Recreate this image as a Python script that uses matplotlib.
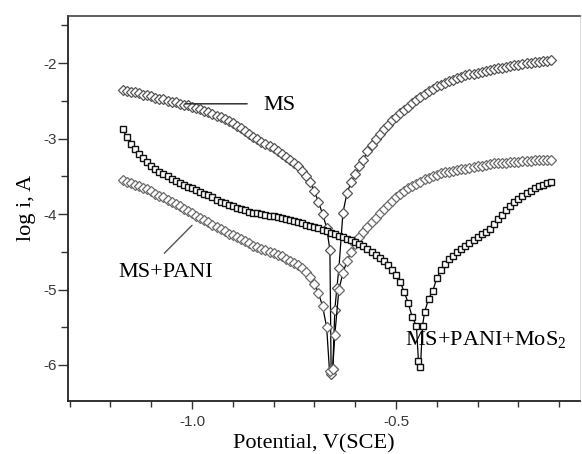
import matplotlib
matplotlib.use("Agg")
import matplotlib.pyplot as plt
from matplotlib.ticker import MultipleLocator, FixedLocator

plt.rcParams['mathtext.fontset'] = 'custom'
plt.rcParams['mathtext.rm'] = 'Liberation Serif'

# ---- MS (bare mild steel), potential V(SCE) vs log i
ms_e = [-1.17, -1.16, -1.15, -1.14, -1.13, -1.12, -1.11, -1.10, -1.09, -1.08,
        -1.07, -1.06, -1.05, -1.04, -1.03, -1.02, -1.01, -1.00, -0.99, -0.98,
        -0.97, -0.96, -0.95, -0.94, -0.93, -0.92, -0.91, -0.90, -0.89, -0.88,
        -0.87, -0.86, -0.85, -0.84, -0.83, -0.82, -0.81, -0.80, -0.79, -0.78,
        -0.77, -0.76, -0.75, -0.74, -0.73, -0.72, -0.71, -0.70, -0.69, -0.68,
        -0.67, -0.662, -0.659,
        -0.655, -0.65, -0.645, -0.64, -0.63,
        -0.62, -0.61, -0.60, -0.59, -0.58, -0.57, -0.56, -0.55, -0.54, -0.53,
        -0.52, -0.51, -0.50, -0.49, -0.48, -0.47, -0.46, -0.45, -0.44, -0.43,
        -0.42, -0.41, -0.40, -0.39, -0.38, -0.37, -0.36, -0.35, -0.34, -0.33,
        -0.32, -0.31, -0.30, -0.29, -0.28, -0.27, -0.26, -0.25, -0.24, -0.23,
        -0.22, -0.21, -0.20, -0.19, -0.18, -0.17, -0.16, -0.15, -0.14, -0.13,
        -0.12]
ms_logi = [-2.36, -2.37, -2.38, -2.39, -2.40, -2.42, -2.43, -2.44, -2.46, -2.47,
           -2.48, -2.50, -2.51, -2.52, -2.54, -2.55, -2.56, -2.58, -2.60, -2.61,
           -2.63, -2.65, -2.67, -2.70, -2.72, -2.74, -2.77, -2.80, -2.83, -2.86,
           -2.90, -2.94, -2.98, -3.01, -3.04, -3.07, -3.10, -3.13, -3.17, -3.21,
           -3.25, -3.29, -3.33, -3.37, -3.43, -3.50, -3.58, -3.70, -3.84, -4.00,
           -4.18, -4.48, -6.12,
           -6.05, -5.27, -4.98, -4.72, -3.98,
           -3.72, -3.58, -3.47, -3.37, -3.28, -3.17, -3.09, -3.01, -2.94, -2.88,
           -2.82, -2.76, -2.71, -2.66, -2.62, -2.58, -2.53, -2.49, -2.45, -2.41,
           -2.37, -2.34, -2.31, -2.29, -2.26, -2.24, -2.22, -2.20, -2.18, -2.16,
           -2.15, -2.14, -2.13, -2.12, -2.10, -2.09, -2.08, -2.07, -2.06, -2.05,
           -2.04, -2.03, -2.02, -2.01, -2.00, -2.00, -1.99, -1.98, -1.97, -1.97,
           -1.96]

# ---- MS+PANI
pani_e = [-1.17, -1.16, -1.15, -1.14, -1.13, -1.12, -1.11, -1.10, -1.09, -1.08,
          -1.07, -1.06, -1.05, -1.04, -1.03, -1.02, -1.01, -1.00, -0.99, -0.98,
          -0.97, -0.96, -0.95, -0.94, -0.93, -0.92, -0.91, -0.90, -0.89, -0.88,
          -0.87, -0.86, -0.85, -0.84, -0.83, -0.82, -0.81, -0.80, -0.79, -0.78,
          -0.77, -0.76, -0.75, -0.74, -0.73, -0.72, -0.71, -0.70, -0.69, -0.68,
          -0.67, -0.663,
          -0.655, -0.65, -0.64, -0.63, -0.62, -0.61, -0.60, -0.59,
          -0.58, -0.57, -0.56, -0.55, -0.54, -0.53, -0.52, -0.51, -0.50, -0.49,
          -0.48, -0.47, -0.46, -0.45, -0.44, -0.43, -0.42, -0.41, -0.40, -0.39,
          -0.38, -0.37, -0.36, -0.35, -0.34, -0.33, -0.32, -0.31, -0.30, -0.29,
          -0.28, -0.27, -0.26, -0.25, -0.24, -0.23, -0.22, -0.21, -0.20, -0.19,
          -0.18, -0.17, -0.16, -0.15, -0.14, -0.13, -0.12]
pani_logi = [-3.55, -3.57, -3.59, -3.61, -3.63, -3.65, -3.67, -3.70, -3.73, -3.76,
             -3.78, -3.81, -3.84, -3.87, -3.90, -3.93, -3.96, -3.99, -4.02, -4.05,
             -4.08, -4.11, -4.14, -4.17, -4.20, -4.23, -4.26, -4.28, -4.31, -4.33,
             -4.36, -4.39, -4.42, -4.44, -4.46, -4.48, -4.50, -4.52, -4.54, -4.56,
             -4.59, -4.62, -4.65, -4.68, -4.72, -4.77, -4.83, -4.93, -5.05, -5.22,
             -5.50, -6.08,
             -6.05, -5.60, -5.00, -4.78, -4.62, -4.50, -4.40, -4.31,
             -4.24, -4.17, -4.11, -4.05, -3.98, -3.93, -3.88, -3.83, -3.78, -3.74,
             -3.70, -3.66, -3.63, -3.60, -3.57, -3.54, -3.52, -3.50, -3.48, -3.46,
             -3.45, -3.44, -3.43, -3.42, -3.41, -3.40, -3.39, -3.38, -3.37, -3.36,
             -3.35, -3.34, -3.33, -3.33, -3.32, -3.32, -3.31, -3.31, -3.31, -3.30,
             -3.30, -3.30, -3.29, -3.29, -3.29, -3.28, -3.28]

# ---- MS+PANI+MoS2
mos2_e = [-1.17, -1.16, -1.15, -1.14, -1.13, -1.12, -1.11, -1.10, -1.09, -1.08,
          -1.07, -1.06, -1.05, -1.04, -1.03, -1.02, -1.01, -1.00, -0.99, -0.98,
          -0.97, -0.96, -0.95, -0.94, -0.93, -0.92, -0.91, -0.90, -0.89, -0.88,
          -0.87, -0.86, -0.85, -0.84, -0.83, -0.82, -0.81, -0.80, -0.79, -0.78,
          -0.77, -0.76, -0.75, -0.74, -0.73, -0.72, -0.71, -0.70, -0.69, -0.68,
          -0.67, -0.66, -0.65, -0.64, -0.63, -0.62, -0.61, -0.60, -0.59, -0.58,
          -0.57, -0.56, -0.55, -0.54, -0.53, -0.52, -0.51, -0.50, -0.49, -0.48,
          -0.47, -0.46, -0.45, -0.445, -0.44,
          -0.435, -0.43, -0.42, -0.41, -0.40, -0.39,
          -0.38, -0.37, -0.36, -0.35, -0.34, -0.33, -0.32, -0.31, -0.30, -0.29,
          -0.28, -0.27, -0.26, -0.25, -0.24, -0.23, -0.22, -0.21, -0.20, -0.19,
          -0.18, -0.17, -0.16, -0.15, -0.14, -0.13, -0.12]
mos2_logi = [-2.88, -2.98, -3.07, -3.14, -3.20, -3.26, -3.31, -3.36, -3.40, -3.44,
             -3.47, -3.50, -3.53, -3.56, -3.59, -3.62, -3.64, -3.66, -3.68, -3.71,
             -3.73, -3.75, -3.78, -3.81, -3.84, -3.86, -3.88, -3.90, -3.92, -3.94,
             -3.95, -3.97, -3.98, -3.99, -4.00, -4.01, -4.02, -4.03, -4.04, -4.05,
             -4.07, -4.08, -4.09, -4.11, -4.12, -4.14, -4.16, -4.17, -4.19, -4.21,
             -4.23, -4.25, -4.27, -4.29, -4.31, -4.33, -4.35, -4.37, -4.40, -4.43,
             -4.46, -4.50, -4.54, -4.58, -4.62, -4.67, -4.74, -4.81, -4.90, -5.03,
             -5.18, -5.37, -5.48, -5.95, -6.02,
             -5.48, -5.30, -5.12, -5.02, -4.85, -4.74,
             -4.66, -4.60, -4.55, -4.50, -4.46, -4.42, -4.38, -4.34, -4.30, -4.27,
             -4.24, -4.20, -4.13, -4.07, -4.01, -3.95, -3.89, -3.84, -3.80, -3.76,
             -3.72, -3.69, -3.66, -3.63, -3.61, -3.59, -3.58]

fig = plt.figure(figsize=(5.82, 4.54), dpi=100)
ax = fig.add_axes([68 / 582, 1 - 401 / 454, 512 / 582, 385 / 454])

ax.plot(ms_e, ms_logi, color='black', lw=0.9, marker='D', ms=4.8,
        mfc='white', mec='#555555', mew=0.9)
ax.plot(pani_e, pani_logi, color='black', lw=0.9, marker='D', ms=4.8,
        mfc='white', mec='#6a6a6a', mew=0.9)
ax.plot(mos2_e, mos2_logi, color='black', lw=0.9, marker='s', ms=5.0,
        mfc='white', mec='#111111', mew=1.0)

ax.set_xlim(-1.304, -0.049)
ax.set_ylim(-6.477, -1.377)

ax.xaxis.set_major_locator(FixedLocator([-1.0, -0.5]))
ax.xaxis.set_minor_locator(MultipleLocator(0.1))
ax.yaxis.set_major_locator(FixedLocator([-6, -5, -4, -3, -2]))
ax.yaxis.set_minor_locator(MultipleLocator(0.5))
ax.set_xticklabels(['-1.0', '-0.5'])
ax.set_yticklabels(['-6', '-5', '-4', '-3', '-2'])

ax.tick_params(which='both', direction='out', width=1.0, color='#333333',
               labelsize=11, labelcolor='#3a3a3a')
ax.tick_params(axis='y', which='major', length=7, pad=1)
ax.tick_params(axis='y', which='minor', length=5)
ax.tick_params(axis='x', which='major', length=6, pad=4)
ax.tick_params(axis='x', which='minor', length=4)
for lab in ax.get_xticklabels() + ax.get_yticklabels():
    lab.set_family('Liberation Sans')

for side in ['left', 'bottom']:
    ax.spines[side].set_linewidth(1.3)
    ax.spines[side].set_color('#222222')
ax.spines['top'].set_linewidth(1.2)
ax.spines['top'].set_color('#444444')
ax.spines['right'].set_linewidth(0.8)
ax.spines['right'].set_color('#dddddd')

serif = 'Liberation Serif'
fig.text(314 / 582, 1 - 444 / 454, 'Potential, V(SCE)', family=serif,
         fontsize=16, ha='center', va='center')
fig.text(27 / 582, 1 - 208 / 454, 'log i, A', family=serif, fontsize=16,
         rotation=90, ha='center', va='center')

# curve labels with leader lines
ax.annotate('', xy=(-1.017, -2.54), xytext=(-0.865, -2.54),
            arrowprops=dict(arrowstyle='-', lw=1.1, color='#333333',
                            shrinkA=0, shrinkB=0))
ax.text(-0.826, -2.56, 'MS', family=serif, fontsize=16, va='center', ha='left')

ax.annotate('', xy=(-1.0, -4.15), xytext=(-1.068, -4.52),
            arrowprops=dict(arrowstyle='-', lw=1.0, color='#555555',
                            shrinkA=0, shrinkB=0))
ax.text(-1.064, -4.77, 'MS+PANI', family=serif, fontsize=16, va='center',
        ha='center')

ax.text(-0.478, -5.67, r'MS+PANI+MoS$_\mathrm{2}$', family=serif, fontsize=16,
        va='center', ha='left')

fig.savefig('out.png', dpi=100)
